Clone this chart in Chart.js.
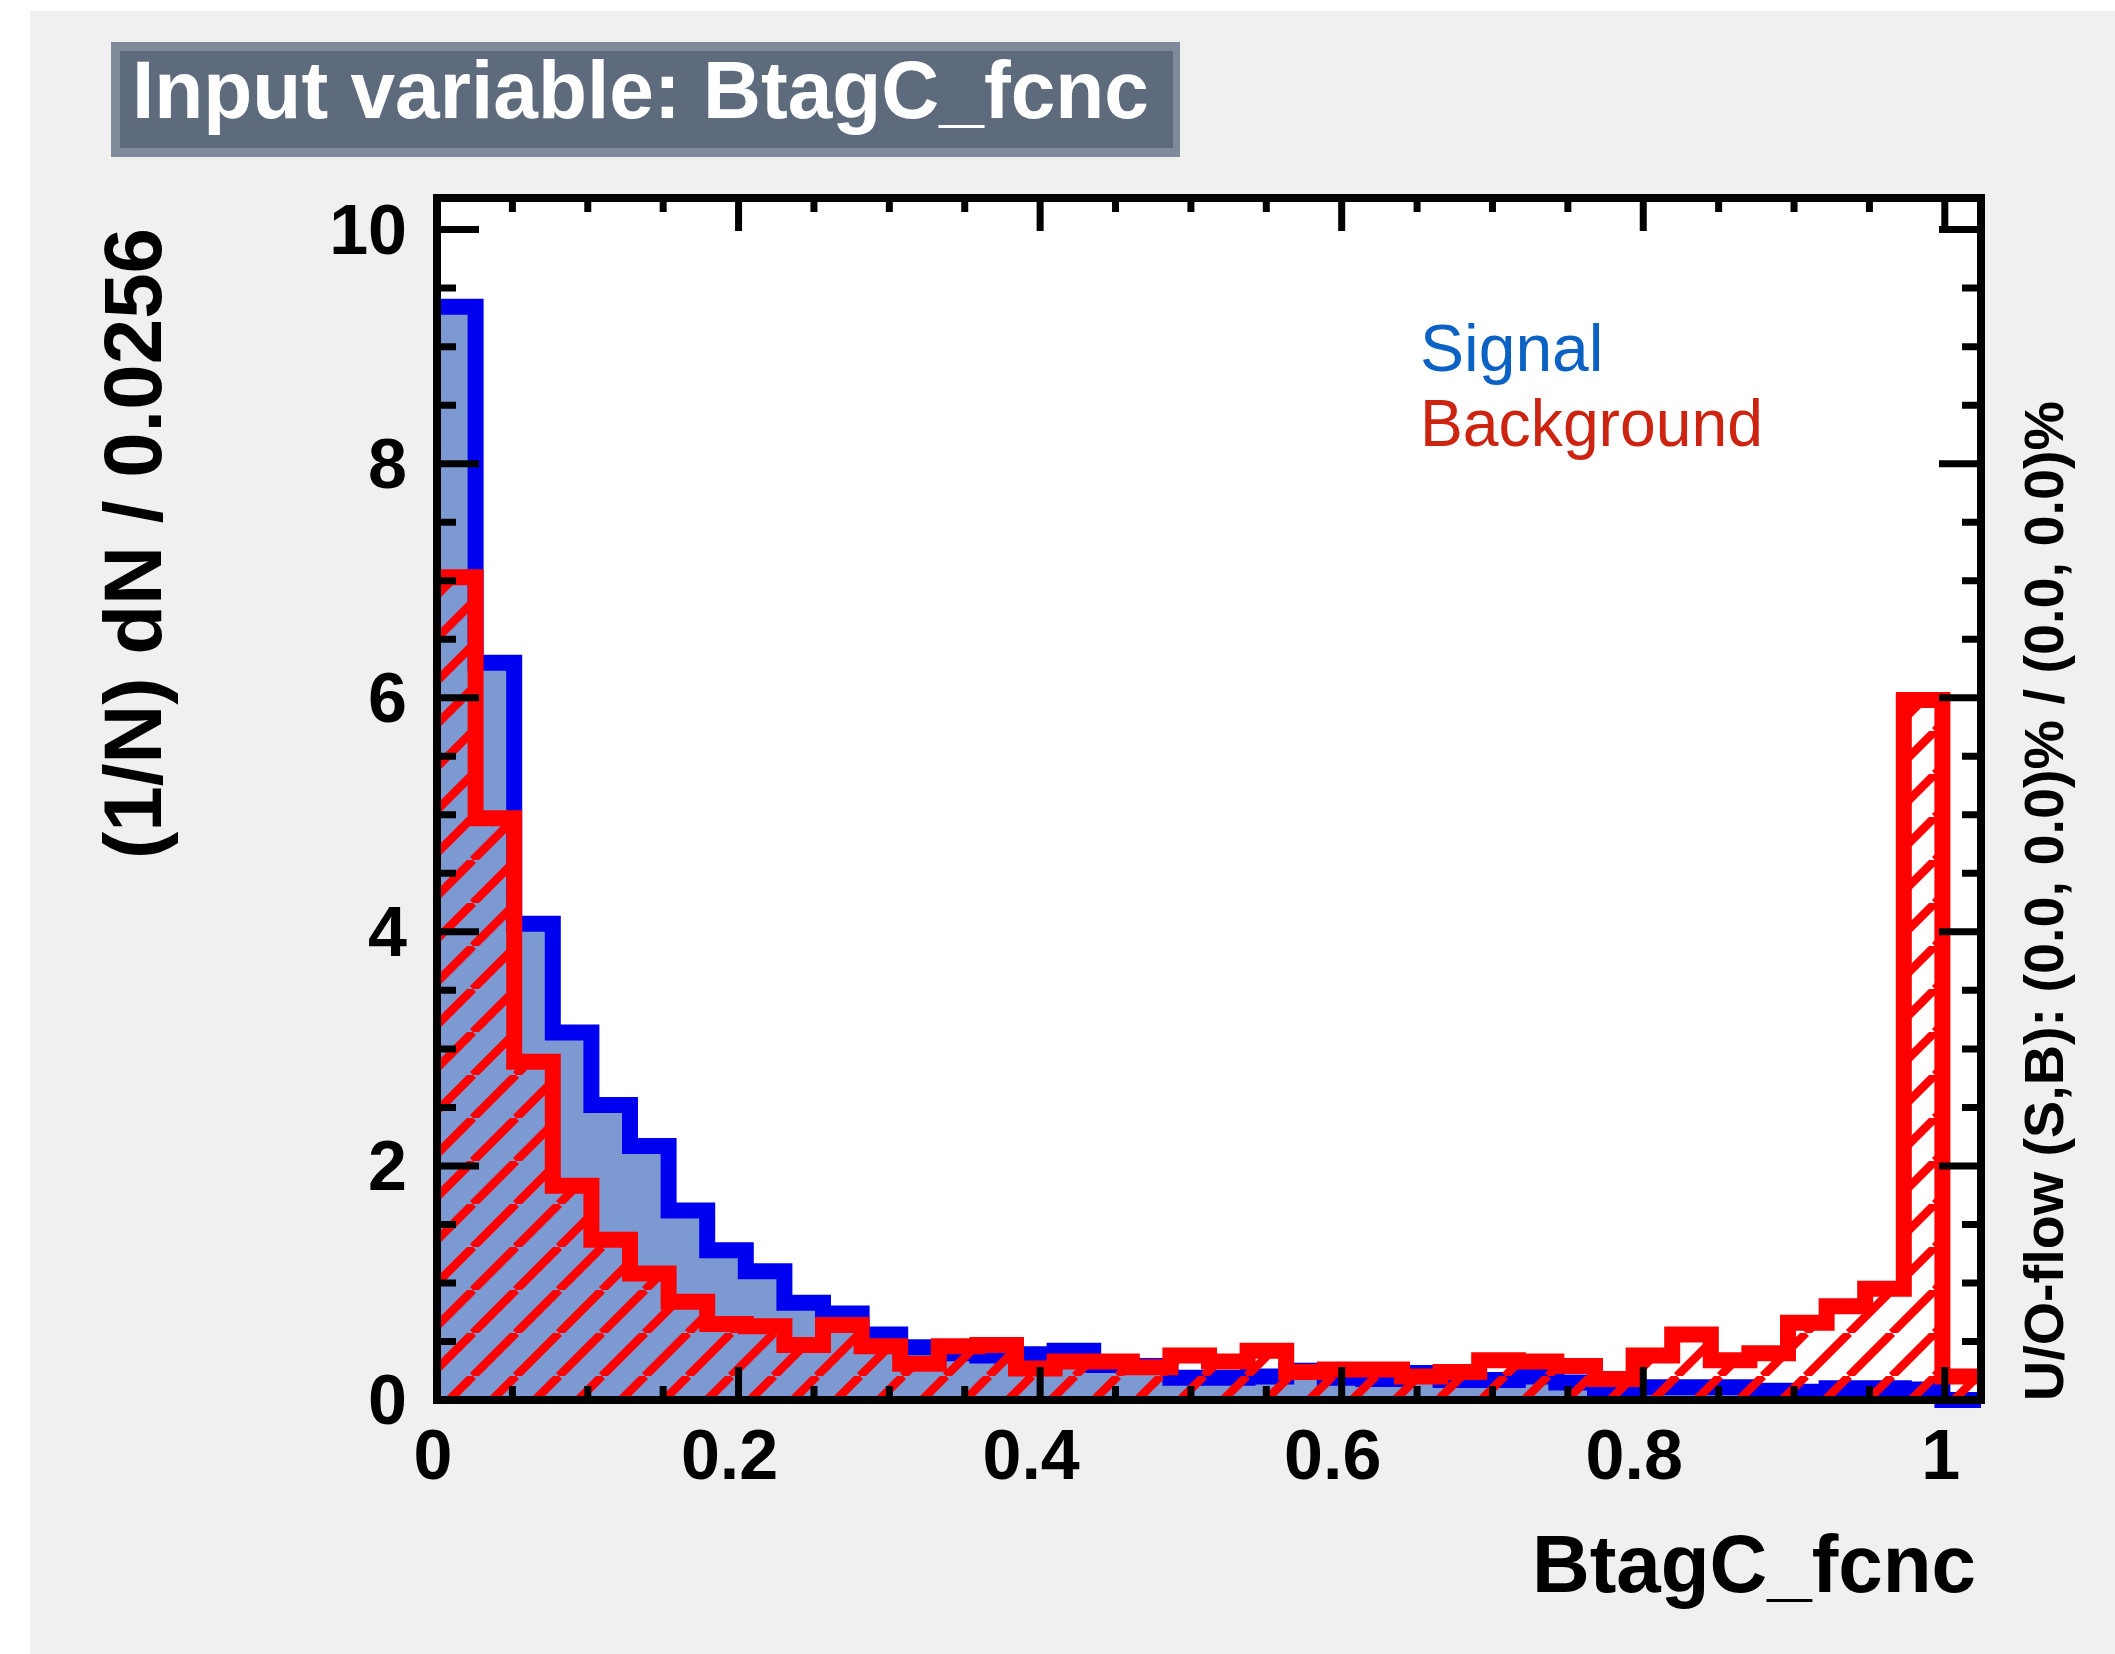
<!DOCTYPE html>
<html>
<head>
<meta charset="utf-8">
<script src="https://cdn.jsdelivr.net/npm/chart.js@4.4.1/dist/chart.umd.min.js"></script>
<style>
  html, body { margin: 0; padding: 0; background: #ffffff; }
  #wrap { width: 2115px; height: 1654px; }
</style>
</head>
<body>
<div id="wrap"><canvas id="histo" width="2115" height="1654"></canvas></div>
<script>
// histogramme : 40 bins de largeur 0.0256 sur [0, 1.024]
const binWidth = 0.0256;
const xMax = 1.024;
const yMax = 10.27;

// (1/N) dN / 0.0256
const signalValues = [
  9.34, 6.30, 4.07, 3.14, 2.52, 2.17, 1.62, 1.28, 1.10, 0.83,
  0.74, 0.56, 0.45, 0.40, 0.38, 0.39, 0.42, 0.30, 0.29, 0.19,
  0.19, 0.20, 0.25, 0.19, 0.18, 0.23, 0.17, 0.17, 0.20, 0.15,
  0.10, 0.11, 0.11, 0.11, 0.08, 0.07, 0.10, 0.10, 0.09, 0.00
];
const backgroundValues = [
  7.03, 4.97, 2.89, 1.83, 1.37, 1.08, 0.84, 0.65, 0.63, 0.47,
  0.64, 0.46, 0.31, 0.46, 0.47, 0.27, 0.33, 0.33, 0.28, 0.38,
  0.33, 0.42, 0.24, 0.26, 0.26, 0.20, 0.24, 0.34, 0.33, 0.29,
  0.18, 0.38, 0.56, 0.34, 0.40, 0.66, 0.80, 0.95, 5.98, 0.20
];

const xTickValues = [0, 0.2, 0.4, 0.6, 0.8, 1];
const xTickLabels = ['0', '0.2', '0.4', '0.6', '0.8', '1'];
const yTickValues = [0, 2, 4, 6, 8, 10];
const yTickLabels = ['0', '2', '4', '6', '8', '10'];

const titleText = 'Input variable: BtagC_fcnc';
const xTitle = 'BtagC_fcnc';
const yTitle = '(1/N) dN / 0.0256';
const overflowText = 'U/O-flow (S,B): (0.0, 0.0)% / (0.0, 0.0)%';
const legendNames = ['Signal', 'Background'];

const FONT = '"Liberation Sans", Arial, Helvetica, sans-serif';

// points du contour en escalier (bord gauche de chaque bin + bord droit final)
function toSteps(values) {
    let pts = values.map((v, i) => ({ x: i * binWidth, y: v }));
    pts.push({ x: values.length * binWidth, y: values[values.length - 1] });
    return pts;
}

// hachures "/" rouges pour le bruit de fond
function makeHatch() {
    const s = 43;
    const c = document.createElement('canvas');
    c.width = s; c.height = s;
    const g = c.getContext('2d');
    g.strokeStyle = '#ff0000';
    g.lineWidth = 8.5;
    g.beginPath();
    for (let k = -1; k <= 1; k++) {
        g.moveTo(k * s, s);
        g.lineTo(k * s + s, 0);
    }
    g.stroke();
    return g.createPattern(c, 'repeat');
}

// texte ajusté à une largeur donnée
function drawFit(ctx, text, x, y, width, align) {
    let w = ctx.measureText(text).width;
    let k = width ? width / w : 1;
    ctx.save();
    ctx.translate(x, y);
    ctx.scale(k, 1);
    ctx.textAlign = align;
    ctx.fillText(text, 0, 0);
    ctx.restore();
}

const rootStyle = {
    id: 'rootStyle',
    beforeDraw(chart) {
        const ctx = chart.ctx;
        const a = chart.chartArea;
        ctx.save();
        ctx.fillStyle = '#ffffff';
        ctx.fillRect(0, 0, chart.width, chart.height);
        ctx.fillStyle = '#f0f0f0';
        ctx.fillRect(30, 11, chart.width - 30, chart.height - 11);
        ctx.fillStyle = '#ffffff';
        ctx.fillRect(a.left, a.top, a.right - a.left, a.bottom - a.top);
        ctx.restore();
    },
    afterDraw(chart) {
        const ctx = chart.ctx;
        const a = chart.chartArea;
        const xs = chart.scales.x;
        const ys = chart.scales.y;
        ctx.save();

        // graduations (dedans, en haut/bas et gauche/droite)
        ctx.strokeStyle = '#000000';
        ctx.lineWidth = 7;
        ctx.beginPath();
        for (let i = 0; i * 0.05 <= xMax + 1e-9; i++) {
            let px = xs.getPixelForValue(i * 0.05);
            let len = (i % 4 === 0) ? 33 : 14;
            ctx.moveTo(px, a.bottom); ctx.lineTo(px, a.bottom - len);
            ctx.moveTo(px, a.top); ctx.lineTo(px, a.top + len);
        }
        for (let j = 0; j * 0.5 <= yMax + 1e-9; j++) {
            let py = ys.getPixelForValue(j * 0.5);
            let len = (j % 4 === 0) ? 42 : 19;
            ctx.moveTo(a.left, py); ctx.lineTo(a.left + len, py);
            ctx.moveTo(a.right, py); ctx.lineTo(a.right - len, py);
        }
        ctx.stroke();

        // cadre
        ctx.lineWidth = 8;
        ctx.strokeRect(a.left, a.top, a.right - a.left, a.bottom - a.top);

        // libellés des axes
        ctx.fillStyle = '#000000';
        ctx.font = 'bold 70px ' + FONT;
        ctx.textBaseline = 'alphabetic';
        xTickValues.forEach((v, i) => {
            let off = xTickLabels[i].length > 1 ? -9 : -4;
            drawFit(ctx, xTickLabels[i], xs.getPixelForValue(v) + off, 1479, null, 'center');
        });
        ctx.textBaseline = 'middle';
        yTickValues.forEach((v, i) => {
            drawFit(ctx, yTickLabels[i], 407, ys.getPixelForValue(v) + 5, null, 'right');
        });

        // titres des axes
        ctx.textBaseline = 'alphabetic';
        ctx.font = 'bold 82px ' + FONT;
        drawFit(ctx, xTitle, 1976, 1592, 444, 'right');

        ctx.save();
        ctx.translate(161, 228);
        ctx.rotate(-Math.PI / 2);
        drawFit(ctx, yTitle, 0, 0, 631, 'right');
        ctx.restore();

        ctx.font = 'bold 56px ' + FONT;
        ctx.save();
        ctx.translate(2063, 1401);
        ctx.rotate(-Math.PI / 2);
        drawFit(ctx, overflowText, 0, 0, 1000, 'left');
        ctx.restore();

        // légende
        ctx.font = '66px ' + FONT;
        ctx.fillStyle = '#0b62c4';
        drawFit(ctx, legendNames[0], 1420, 371, null, 'left');
        ctx.fillStyle = '#cc2410';
        drawFit(ctx, legendNames[1], 1420, 446, 343, 'left');

        // cartouche du titre
        ctx.fillStyle = '#7f8b9b';
        ctx.fillRect(111, 42, 1069, 115);
        ctx.fillStyle = '#5d6b7d';
        ctx.fillRect(120, 51, 1053, 97);
        ctx.fillStyle = '#ffffff';
        ctx.font = 'bold 82px ' + FONT;
        drawFit(ctx, titleText, 132, 118, 1017, 'left');

        ctx.restore();
    }
};

const ctx = document.getElementById('histo').getContext('2d');

const myChart = new Chart(ctx, {
    type: 'line',
    data: {
        datasets: [
            {
                label: legendNames[1],
                data: toSteps(backgroundValues),
                stepped: 'before',
                borderColor: '#ff0000',
                backgroundColor: makeHatch(),
                borderWidth: 16,
                borderJoinStyle: 'miter',
                borderCapStyle: 'butt',
                pointRadius: 0,
                fill: 'origin',
                clip: { left: 0, top: 0, right: 0, bottom: 8 }
            },
            {
                label: legendNames[0],
                data: toSteps(signalValues),
                stepped: 'before',
                borderColor: '#0000f0',
                backgroundColor: '#7d99d1',
                borderWidth: 16,
                borderJoinStyle: 'miter',
                borderCapStyle: 'butt',
                pointRadius: 0,
                fill: 'origin',
                clip: { left: 0, top: 0, right: 0, bottom: 8 }
            }
        ]
    },
    options: {
        responsive: false,
        animation: false,
        devicePixelRatio: 1,
        layout: { padding: { left: 437, right: 134, top: 198, bottom: 254 } },
        scales: {
            x: { type: 'linear', min: 0, max: xMax, display: false },
            y: { type: 'linear', min: 0, max: yMax, display: false }
        },
        plugins: {
            legend: { display: false },
            tooltip: { enabled: false }
        }
    },
    plugins: [rootStyle]
});
</script>
</body>
</html>
